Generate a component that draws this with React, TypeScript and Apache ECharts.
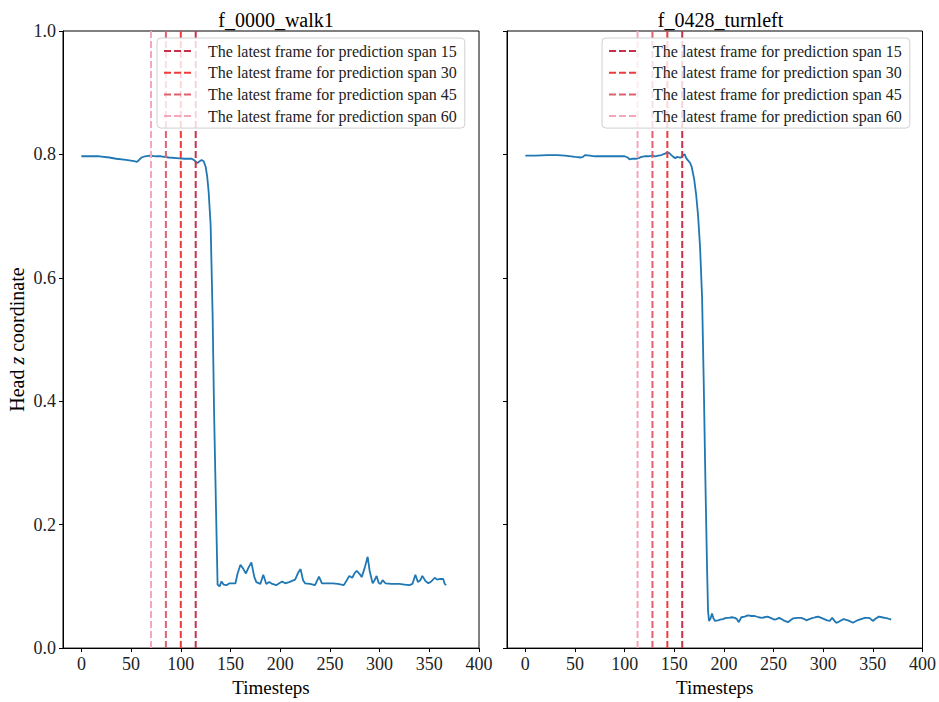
import React, { useEffect, useRef } from "react";
import * as echarts from "echarts";

const panelTitles = ["f_0000_walk1", "f_0428_turnleft"];
const spanNames = [
  "The latest frame for prediction span 15",
  "The latest frame for prediction span 30",
  "The latest frame for prediction span 45",
  "The latest frame for prediction span 60",
];
const spanColors = ["#c9304a", "#ee3b3b", "#e0606e", "#f4a7ba"];
const leftFrames = [115, 100, 85, 70];
const rightFrames = [158, 143, 128, 113];

const leftX = [0, 10, 18, 28, 35, 45, 53, 56, 58, 60.5, 64, 69, 75, 80, 88, 96, 104, 111, 114, 116.5, 119, 121, 123, 125, 126.5, 128, 130, 132, 133.5, 135.5, 137, 139, 141, 143, 146, 149, 152, 155, 157, 160, 163, 165.5, 168, 171, 174, 176, 180, 183, 186, 189, 192, 196, 199, 202, 205, 209, 212, 215, 218, 220.5, 223, 225, 230, 235, 239, 242, 247, 253, 258, 264, 267, 269.5, 272.5, 275, 277, 280, 282, 285, 288, 290, 293, 295, 297, 299, 301, 303, 306, 312, 320, 325, 330, 333, 336, 338.5, 341, 343, 346, 349, 352, 355.5, 358, 361, 364, 365.5, 367];
const leftY = [0.797, 0.797, 0.797, 0.795, 0.793, 0.791, 0.789, 0.788, 0.791, 0.795, 0.797, 0.798, 0.797, 0.797, 0.795, 0.794, 0.793, 0.793, 0.79, 0.786, 0.789, 0.791, 0.789, 0.78, 0.765, 0.74, 0.686, 0.541, 0.381, 0.22, 0.103, 0.1, 0.108, 0.103, 0.102, 0.105, 0.105, 0.105, 0.12, 0.135, 0.128, 0.121, 0.13, 0.139, 0.115, 0.107, 0.104, 0.119, 0.104, 0.107, 0.104, 0.102, 0.105, 0.108, 0.105, 0.107, 0.109, 0.111, 0.122, 0.128, 0.11, 0.105, 0.104, 0.102, 0.116, 0.105, 0.105, 0.105, 0.104, 0.102, 0.11, 0.117, 0.114, 0.122, 0.125, 0.12, 0.115, 0.13, 0.148, 0.125, 0.105, 0.11, 0.117, 0.106, 0.104, 0.11, 0.105, 0.104, 0.104, 0.103, 0.102, 0.104, 0.119, 0.107, 0.11, 0.117, 0.109, 0.105, 0.108, 0.114, 0.111, 0.112, 0.112, 0.104, 0.102];

const rightX = [0, 10, 22, 32, 40, 50, 56, 58, 60, 65, 70, 80, 90, 100, 103, 105, 108, 112, 114, 117, 120, 124, 128, 131, 134, 137, 140, 143, 145, 147, 149, 151, 153, 155, 157, 159, 160.5, 162, 164, 166, 167.5, 170, 172, 174, 176, 178, 179.6, 181.3, 183, 184, 185, 186.5, 188, 189.5, 191, 194, 196, 199, 202, 205, 208, 211, 213, 215, 217.5, 221, 224, 228, 231, 235, 238, 241, 244, 247, 251, 253, 255.5, 258, 260, 264.5, 267, 269.5, 274, 278, 281, 283, 286, 288, 292, 295, 298, 301, 304, 306.5, 309, 311, 313, 316, 320.5, 325, 330, 334.5, 338, 342, 346.5, 350, 353, 356, 359, 362, 365, 368.5];
const rightY = [0.798, 0.798, 0.799, 0.799, 0.798, 0.796, 0.795, 0.796, 0.799, 0.798, 0.797, 0.797, 0.797, 0.797, 0.795, 0.792, 0.793, 0.793, 0.794, 0.796, 0.797, 0.797, 0.798, 0.797, 0.798, 0.799, 0.801, 0.803, 0.802, 0.799, 0.796, 0.794, 0.796, 0.795, 0.795, 0.799, 0.8, 0.794, 0.79, 0.786, 0.78, 0.76, 0.735, 0.7, 0.648, 0.568, 0.435, 0.274, 0.13, 0.06, 0.044, 0.048, 0.056, 0.048, 0.044, 0.045, 0.046, 0.047, 0.049, 0.049, 0.05, 0.049, 0.047, 0.042, 0.05, 0.051, 0.053, 0.052, 0.052, 0.05, 0.049, 0.05, 0.051, 0.049, 0.046, 0.047, 0.049, 0.047, 0.045, 0.042, 0.045, 0.048, 0.049, 0.049, 0.047, 0.045, 0.047, 0.048, 0.05, 0.051, 0.049, 0.047, 0.045, 0.044, 0.049, 0.045, 0.041, 0.043, 0.047, 0.045, 0.041, 0.045, 0.047, 0.049, 0.049, 0.044, 0.048, 0.051, 0.05, 0.049, 0.048, 0.046];

const FONT = "Liberation Serif";

export default function App() {
  const ref = useRef<HTMLDivElement>(null);
  useEffect(() => {
    if (!ref.current) return;
    const chart = echarts.init(ref.current, null, { renderer: "svg" });
    const grids = [
      { left: 63, right: 460, top: 31, bottom: 48 },
      { left: 507, right: 15, top: 31, bottom: 48 },
    ];
    const panels = [
      { xs: leftX, ys: leftY, frames: leftFrames },
      { xs: rightX, ys: rightY, frames: rightFrames },
    ];
    const xAxes = grids.map((_, i) => ({
      type: "value",
      gridIndex: i,
      min: -18.5,
      max: 400,
      splitNumber: 8,
      name: "Timesteps",
      nameLocation: "middle",
      nameGap: 27,
      nameTextStyle: { fontFamily: FONT, fontSize: 19, color: "#000" },
      axisLine: { show: true, onZero: false, lineStyle: { color: "#000", width: 1 } },
      axisTick: { show: true, inside: false, length: 4, lineStyle: { color: "#000" } },
      axisLabel: {
        show: true,
        showMinLabel: false,
        margin: 7,
        fontFamily: FONT,
        fontSize: 18,
        color: "#222",
        formatter: (v: number) => String(Math.round(v)),
      },
      splitLine: { show: false },
    }));
    const yAxes = grids.map((_, i) => ({
      type: "value",
      gridIndex: i,
      min: 0,
      max: 1,
      interval: 0.2,
      name: i === 0 ? "{a|Head }{b|z}{a| coordinate}" : "",
      nameLocation: "middle",
      nameRotate: 90,
      nameGap: 36,
      nameTextStyle: {
        fontFamily: FONT,
        fontSize: 20,
        color: "#000",
        rich: {
          a: { fontFamily: FONT, fontSize: 20, color: "#000" },
          b: { fontFamily: FONT, fontSize: 20, fontStyle: "italic", color: "#000" },
        },
      },
      axisLine: { show: true, onZero: false, lineStyle: { color: "#000", width: 1 } },
      axisTick: { show: true, inside: false, length: 4, lineStyle: { color: "#000" } },
      axisLabel: {
        show: i === 0,
        margin: 7,
        fontFamily: FONT,
        fontSize: 18,
        color: "#222",
        formatter: (v: number) => v.toFixed(1),
      },
      splitLine: { show: false },
    }));
    const series: any[] = [];
    panels.forEach((p, i) => {
      series.push({
        type: "line",
        name: "z" + i,
        xAxisIndex: i,
        yAxisIndex: i,
        data: p.xs.map((x, k) => [x, p.ys[k]]),
        symbol: "none",
        silent: true,
        lineStyle: { color: "#1f77b4", width: 1.8 },
        z: 2,
      });
      p.frames.forEach((f, k) => {
        series.push({
          type: "line",
          name: spanNames[k],
          xAxisIndex: i,
          yAxisIndex: i,
          data: [
            [f, 0],
            [f, 1],
          ],
          symbol: "none",
          silent: true,
          color: spanColors[k],
          lineStyle: { color: spanColors[k], width: 2, type: [7, 3] },
          z: 3,
        });
      });
    });
    const legendBase = {
      orient: "vertical",
      top: 38,
      padding: [5, 8, 4, 6],
      itemWidth: 30,
      itemHeight: 14,
      itemGap: 5.7,
      selectedMode: false,
      borderColor: "#d0d0d0",
      borderWidth: 1,
      borderRadius: 4,
      backgroundColor: "rgba(255,255,255,0.8)",
      data: spanNames,
      itemStyle: { opacity: 0 },
      textStyle: { fontFamily: FONT, fontSize: 16, color: "#222", padding: [0, 0, 0, 9] },
    };
    chart.setOption({
      animation: false,
      grid: grids.map((g) => ({ ...g, show: true, borderColor: "#000", borderWidth: 1, backgroundColor: "transparent" })),
      title: panelTitles.map((t, i) => ({
        text: t,
        left: i === 0 ? 271 : 715.5,
        textAlign: "center",
        top: 5,
        textStyle: { fontFamily: FONT, fontSize: 20, fontWeight: "normal", color: "#000" },
      })),
      legend: [
        { ...legendBase, left: 157 },
        { ...legendBase, left: 602 },
      ],
      xAxis: xAxes,
      yAxis: yAxes,
      series,
    });
    return () => chart.dispose();
  }, []);
  return (
    <div
      ref={ref}
      style={{ position: "fixed", left: 0, top: 0, width: 939, height: 702, background: "#fff" }}
    />
  );
}
